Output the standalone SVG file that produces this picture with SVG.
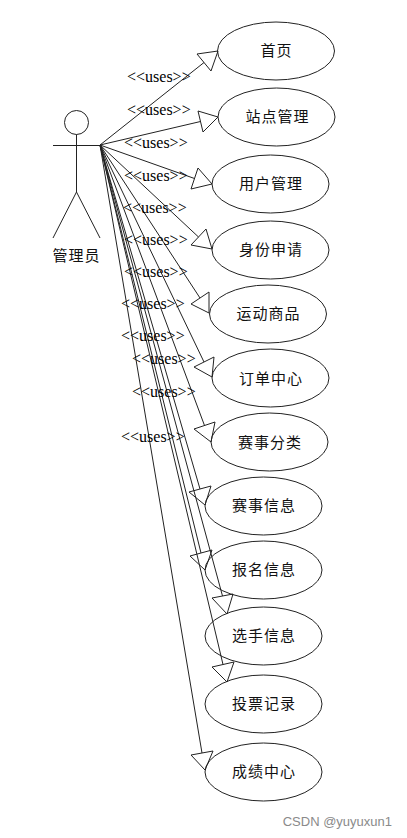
<svg xmlns="http://www.w3.org/2000/svg" width="407" height="838" viewBox="0 0 407 838">
<style>
.s{fill:none;stroke:#222;stroke-width:1}
.n{fill:none;stroke:#222;stroke-width:1}
.t{font-family:"Noto Sans CJK SC","Noto Sans",sans-serif;font-size:15px;fill:#111;text-anchor:middle}
.u{font-family:"Liberation Serif",serif;font-size:16px;fill:#000}
</style>
<rect width="407" height="838" fill="#fff"/>
<g id="connectors">
<g class="s">
<path d="M100 145L204 62.500"/>
<path d="M100 145L200.500 121.500"/>
<path d="M100 145L194.500 178.500"/>
<path d="M100 145L198.500 237"/>
<path d="M100 145L200 298"/>
<path d="M100 145L204 362"/>
<path d="M100 145L204.500 425.500"/>
<path d="M100 145L200 489"/>
<path d="M100 145L201 553"/>
<path d="M100 145L222.500 596"/>
<path d="M100 145L223 664.500"/>
<path d="M100 145L202 753"/>
</g>
<g class="s">
<path d="M218 51L197 54L211 71Z"/>
<path d="M218 117L198 111L203 132Z"/>
<path d="M212 184L198 168L191 189Z"/>
<path d="M212 249L206 229L191 245Z"/>
<path d="M209 313L209 292L191 304Z"/>
<path d="M212 377L214 357L194 367Z"/>
<path d="M211 442L215 422L194 429Z"/>
<path d="M205 505L211 486L189 492Z"/>
<path d="M205 570L212 550L190 556Z"/>
<path d="M227 614L233 594L212 598Z"/>
<path d="M227 682L234 662L212 667Z"/>
<path d="M205 770L213 751L191 755Z"/>
</g>
<g>
<text class="u" x="127" y="82">&lt;&lt;uses&gt;&gt;</text>
<text class="u" x="127" y="115">&lt;&lt;uses&gt;&gt;</text>
<text class="u" x="124" y="148">&lt;&lt;uses&gt;&gt;</text>
<text class="u" x="124" y="181">&lt;&lt;uses&gt;&gt;</text>
<text class="u" x="123" y="213">&lt;&lt;uses&gt;&gt;</text>
<text class="u" x="124" y="245">&lt;&lt;uses&gt;&gt;</text>
<text class="u" x="124" y="277">&lt;&lt;uses&gt;&gt;</text>
<text class="u" x="121" y="309">&lt;&lt;uses&gt;&gt;</text>
<text class="u" x="121" y="341">&lt;&lt;uses&gt;&gt;</text>
<text class="u" x="132" y="364">&lt;&lt;uses&gt;&gt;</text>
<text class="u" x="132" y="397">&lt;&lt;uses&gt;&gt;</text>
<text class="u" x="121" y="442">&lt;&lt;uses&gt;&gt;</text>
</g>
</g>
<g id="actor">
<circle class="s" cx="76.500" cy="122.500" r="12"/>
<path class="s" d="M76.500 134.500V192M53 145.500H100M76.500 192L53 238M76.500 192L100 238"/>
<text class="t" x="76.500" y="261" letter-spacing="1">管理员</text>
</g>
<g id="n1"><ellipse class="n" cx="276" cy="51" rx="58.500" ry="29"/><text class="t" x="276.500" y="56" letter-spacing="1">首页</text></g>
<g id="n2"><ellipse class="n" cx="276.500" cy="117" rx="58.500" ry="29"/><text class="t" x="277.500" y="122" letter-spacing="1">站点管理</text></g>
<g id="n3"><ellipse class="n" cx="270.500" cy="184" rx="58.500" ry="29"/><text class="t" x="271" y="189" letter-spacing="1">用户管理</text></g>
<g id="n4"><ellipse class="n" cx="270.500" cy="250" rx="58.500" ry="29"/><text class="t" x="271" y="255" letter-spacing="1">身份申请</text></g>
<g id="n5"><ellipse class="n" cx="268" cy="314" rx="58.500" ry="29"/><text class="t" x="268.500" y="319" letter-spacing="1">运动商品</text></g>
<g id="n6"><ellipse class="n" cx="270.500" cy="378" rx="58.500" ry="29"/><text class="t" x="271" y="384" letter-spacing="1">订单中心</text></g>
<g id="n7"><ellipse class="n" cx="269.500" cy="442" rx="58.500" ry="29"/><text class="t" x="270" y="448" letter-spacing="1">赛事分类</text></g>
<g id="n8"><ellipse class="n" cx="263.500" cy="506" rx="58.500" ry="29"/><text class="t" x="264" y="511" letter-spacing="1">赛事信息</text></g>
<g id="n9"><ellipse class="n" cx="263.500" cy="570" rx="58.500" ry="29"/><text class="t" x="264" y="575" letter-spacing="1">报名信息</text></g>
<g id="n10"><ellipse class="n" cx="263.500" cy="636" rx="58.500" ry="29"/><text class="t" x="264" y="641" letter-spacing="1">选手信息</text></g>
<g id="n11"><ellipse class="n" cx="263.500" cy="704" rx="58.500" ry="29"/><text class="t" x="264" y="709" letter-spacing="1">投票记录</text></g>
<g id="n12"><ellipse class="n" cx="263.500" cy="772" rx="58.500" ry="29"/><text class="t" x="264" y="777" letter-spacing="1">成绩中心</text></g>
<text x="392" y="826" text-anchor="end" font-family="'Liberation Sans',sans-serif" font-size="13px" fill="#8a8a8a">CSDN @yuyuxun1</text>
</svg>
